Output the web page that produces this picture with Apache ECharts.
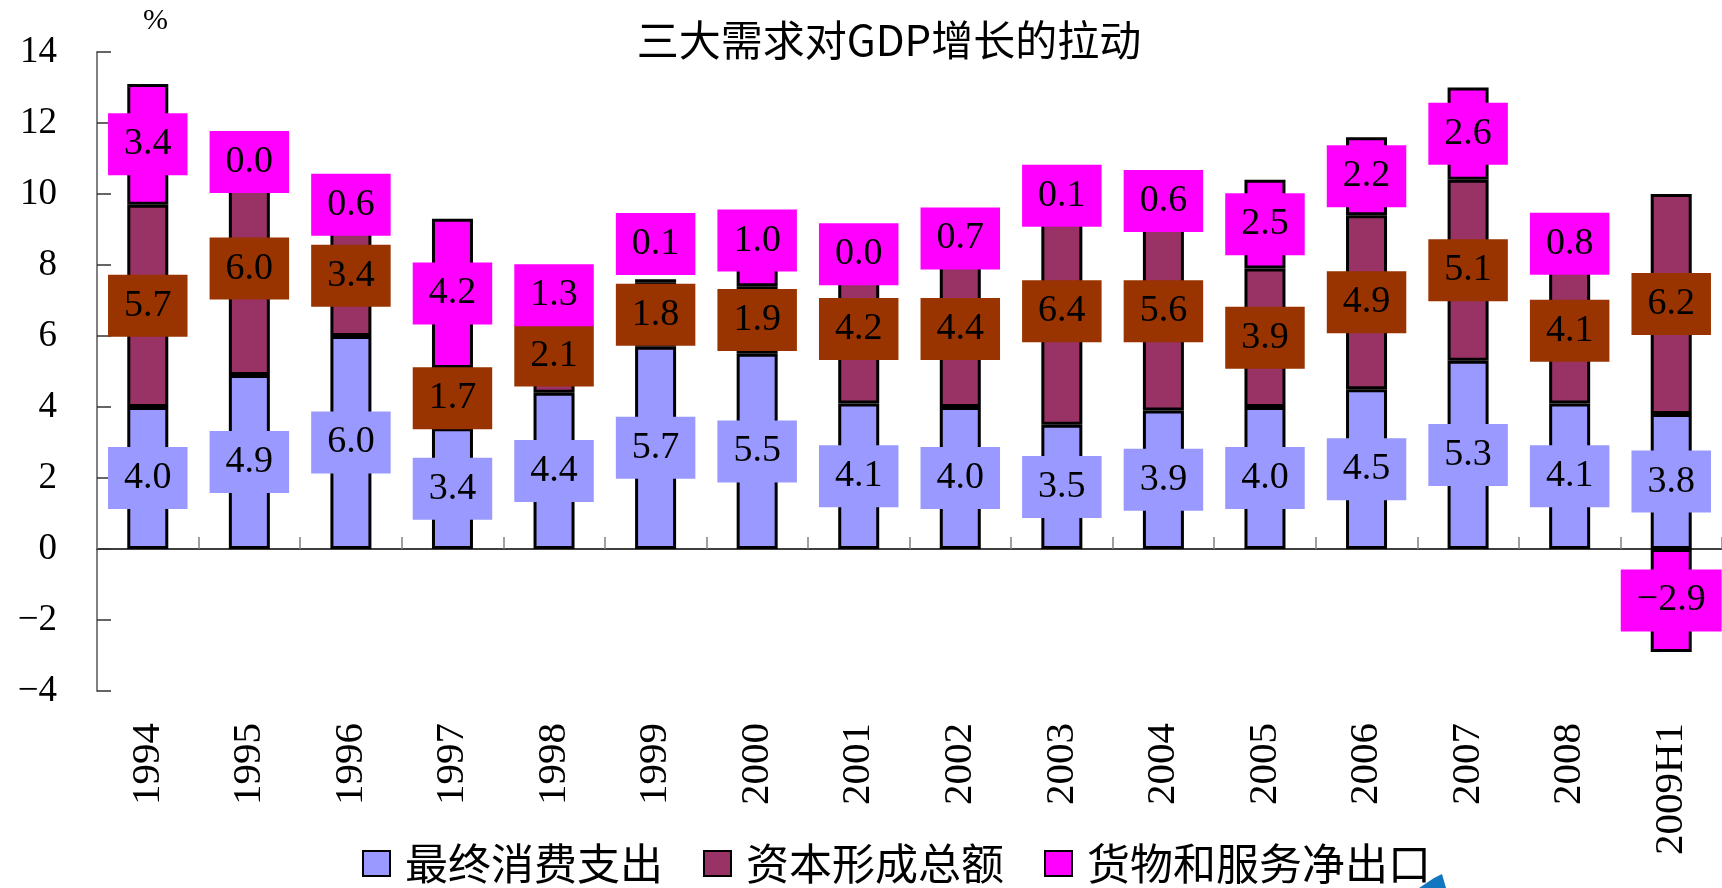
<!DOCTYPE html>
<html>
<head>
<meta charset="utf-8">
<script src="https://cdn.jsdelivr.net/npm/echarts@6/dist/echarts.min.js"></script>
<style>
html,body{margin:0;padding:0;background:#fff;}
#chart{width:1722px;height:888px;}
</style>
</head>
<body>
<div id="chart"></div>
<script>
const years = ['1994','1995','1996','1997','1998','1999','2000','2001','2002','2003','2004','2005','2006','2007','2008','2009H1'];
const consumption = [4.0,4.9,6.0,3.4,4.4,5.7,5.5,4.1,4.0,3.5,3.9,4.0,4.5,5.3,4.1,3.8];
const capital = [5.7,6.0,3.4,1.7,2.1,1.8,1.9,4.2,4.4,6.4,5.6,3.9,4.9,5.1,4.1,6.2];
const netExport = [3.4,0.0,0.6,4.2,1.3,0.1,1.0,0.0,0.7,0.1,0.6,2.5,2.2,2.6,0.8,-2.9];
const seriesNames = ['最终消费支出','资本形成总额','货物和服务净出口'];
const yTicks = { min: -4, max: 14, interval: 2 };

// label placement tweaks (styling only)
const netLabelNudge = { 5: -37, 6: -28 };

const CJK = '"Noto Sans CJK SC", sans-serif';
const SERIF = '"Liberation Serif", "DejaVu Serif", serif';
const fmt = v => v.toFixed(1).replace('-', '\u2212');

function labelStyle(bg) {
  return {
    show: true,
    position: 'inside',
    formatter: p => fmt(p.value),
    fontFamily: SERIF,
    fontSize: 38,
    color: '#000',
    backgroundColor: bg,
    padding: [12, 16, 12, 16]
  };
}
const barBase = {
  type: 'bar',
  stack: 'total',
  barWidth: 41,
  xAxisIndex: 0,
  emphasis: { disabled: true }
};

const chart = echarts.init(document.getElementById('chart'), null, { renderer: 'canvas' });
chart.setOption({
  animation: false,
  backgroundColor: '#fff',
  title: {
    text: '三大需求对GDP增长的拉动',
    left: 884,
    textAlign: 'center',
    top: 14,
    textStyle: { fontFamily: CJK, fontSize: 42, fontWeight: 'normal', color: '#000' }
  },
  legend: {
    data: seriesNames,
    left: 357,
    top: 837,
    itemWidth: 27,
    itemHeight: 25,
    itemGap: 40,
    icon: 'rect',
    textStyle: { fontFamily: CJK, fontSize: 43, color: '#000', padding: [0, 0, 0, 10] }
  },
  grid: { left: 97, right: 0, top: 52, bottom: 197, containLabel: false },
  xAxis: [
    {
      type: 'category',
      data: years,
      position: 'bottom',
      axisLine: { onZero: true, lineStyle: { color: '#000', width: 1.5 } },
      axisTick: { show: true, inside: true, length: 12, lineStyle: { color: '#808080', width: 1.5 } },
      axisLabel: { show: false },
      splitLine: { show: false }
    },
    {
      type: 'category',
      data: years,
      position: 'bottom',
      axisLine: { show: false, onZero: false },
      axisTick: { show: false },
      axisLabel: { show: true, rotate: 90, margin: 32, fontFamily: SERIF, fontSize: 41, color: '#000' },
      splitLine: { show: false }
    }
  ],
  yAxis: {
    type: 'value',
    min: yTicks.min,
    max: yTicks.max,
    interval: yTicks.interval,
    name: '%',
    nameLocation: 'end',
    nameGap: 16,
    nameTextStyle: { fontFamily: SERIF, fontSize: 30, color: '#000', align: 'left', padding: [0, 0, 0, 46] },
    axisLine: { show: true, lineStyle: { color: '#808080', width: 2 } },
    axisTick: { show: true, inside: true, length: 14, lineStyle: { color: '#333', width: 1.5 } },
    axisLabel: { margin: 40, fontFamily: SERIF, fontSize: 37, color: '#000', formatter: v => String(v).replace('-', '\u2212') },
    splitLine: { show: false }
  },
  series: [
    Object.assign({}, barBase, {
      name: seriesNames[0],
      data: consumption,
      itemStyle: { color: '#9999FF', borderColor: '#000', borderWidth: 3 },
      label: labelStyle('#9999FF')
    }),
    Object.assign({}, barBase, {
      name: seriesNames[1],
      data: capital,
      itemStyle: { color: '#993366', borderColor: '#000', borderWidth: 3 },
      label: labelStyle('#993300')
    }),
    Object.assign({}, barBase, {
      name: seriesNames[2],
      data: netExport.map((v, i) => netLabelNudge[i] !== undefined
        ? { value: v, label: { offset: [0, netLabelNudge[i]] } }
        : v),
      itemStyle: { color: '#FF00FF', borderColor: '#000', borderWidth: 3 },
      label: labelStyle('#FF00FF')
    })
  ],
  graphic: [
    {
      type: 'polygon',
      shape: { points: [[1419, 888], [1434, 878], [1442, 874], [1446, 888]] },
      style: { fill: '#1376c0' },
      silent: true
    }
  ]
});
</script>
</body>
</html>
